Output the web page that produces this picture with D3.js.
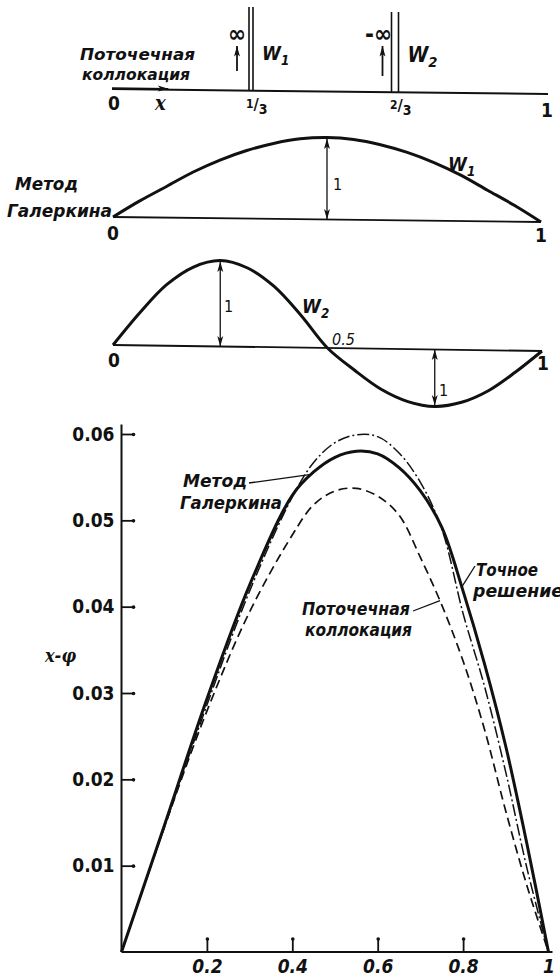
<!DOCTYPE html>
<html>
<head>
<meta charset="utf-8">
<script src="https://cdn.jsdelivr.net/npm/d3@7"></script>
<style>
  body { margin: 0; background: #fff; }
  text { font-family: "DejaVu Sans Condensed", "Liberation Sans Narrow", "DejaVu Sans", sans-serif; font-stretch: condensed; fill: #111; }
  .lbl { font-style: italic; font-weight: bold; font-size: 18px; }
  .num { font-weight: bold; font-size: 19px; }
  .thin { font-size: 16px; }
</style>
</head>
<body>
<svg id="chart" width="560" height="980"></svg>
<script>
// ---- main chart: x - phi ----
var xs          = [0, 0.1, 0.2, 0.3, 0.4, 0.45, 0.5, 0.55, 0.6, 0.65, 0.7, 0.75, 0.8, 0.85, 0.9, 0.95, 1];
var galerkin    = [0, 0.0146, 0.0293, 0.0425, 0.0529, 0.0556, 0.0573, 0.0580, 0.0577, 0.0561, 0.0534, 0.0492, 0.0418, 0.0334, 0.0238, 0.0124, 0];
var exact       = [0, 0.0144, 0.0286, 0.0418, 0.0527, 0.0567, 0.0590, 0.0599, 0.0597, 0.0578, 0.0544, 0.0490, 0.0392, 0.0308, 0.0208, 0.0096, 0];
var collocation = [0, 0.0144, 0.0279, 0.0394, 0.0483, 0.0518, 0.0534, 0.0537, 0.0528, 0.0506, 0.0457, 0.0402, 0.0337, 0.0258, 0.0163, 0.0076, 0];
var yTicks = [0.01, 0.02, 0.03, 0.04, 0.05, 0.06];
var xTicks = [0.2, 0.4, 0.6, 0.8, 1];

// ---- sketches above ----
var wx = [0, 0.0625, 0.125, 0.1875, 0.25, 0.3125, 0.375, 0.4375, 0.5, 0.5625, 0.625, 0.6875, 0.75, 0.8125, 0.875, 0.9375, 1];
var w1 = [0, 0.2, 0.38, 0.56, 0.71, 0.83, 0.92, 0.98, 1, 0.98, 0.92, 0.83, 0.71, 0.56, 0.38, 0.2, 0];
var w2 = [0, 0.38, 0.71, 0.92, 1, 0.92, 0.71, 0.38, 0, -0.38, -0.71, -0.92, -1, -0.92, -0.71, -0.38, 0];
var deltaAt = [1/3, 2/3];
var deltaSign = ["∞", "-∞"];
var deltaSub = ["1", "2"];
var fracNum = ["1", "2"];

var svg = d3.select("#chart");
var ink = "#111";

svg.append("defs").append("marker")
  .attr("id", "head")
  .attr("viewBox", "0 0 12 8")
  .attr("refX", 12).attr("refY", 4)
  .attr("markerWidth", 11).attr("markerHeight", 7)
  .attr("markerUnits", "userSpaceOnUse")
  .attr("orient", "auto-start-reverse")
  .append("path")
  .attr("d", "M0,0.6L12,4L0,7.4L3,4Z")
  .attr("fill", ink);

function label(g, x, y, str, cls, len) {
  var t = g.append("text").attr("x", x).attr("y", y).attr("class", cls).text(str);
  if (len) t.attr("textLength", len).attr("lengthAdjust", "spacingAndGlyphs");
  return t;
}

function wLabel(g, x, y, sub, size) {
  var t = g.append("text").attr("x", x).attr("y", y).attr("class", "lbl")
    .style("font-size", size + "px");
  t.append("tspan").text("W");
  t.append("tspan").attr("dy", 5).style("font-size", (size * 0.7) + "px").text(sub);
}

// ---------- panel 1: point collocation ----------
var xTop = d3.scaleLinear().domain([0, 1/3, 2/3, 1]).range([112, 251, 395, 548]);
var yTop = d3.scaleLinear().domain([0, 1]).range([89, 94]);
var p1 = svg.append("g");

p1.append("line")
  .attr("x1", xTop(0)).attr("y1", yTop(0))
  .attr("x2", xTop(1)).attr("y2", yTop(1))
  .attr("stroke", ink).attr("stroke-width", 2);

p1.append("line")
  .attr("x1", xTop(0)).attr("y1", yTop(0) - 1)
  .attr("x2", xTop(0.135)).attr("y2", yTop(0.135) - 1)
  .attr("stroke", ink).attr("stroke-width", 1.5)
  .attr("marker-end", "url(#head)");

deltaAt.forEach(function(d, i) {
  var cx = xTop(d), yb = yTop(d);
  var gap = i ? 7 : 4;
  [cx - gap / 2, cx + gap / 2].forEach(function(lx) {
    p1.append("line")
      .attr("x1", lx).attr("x2", lx)
      .attr("y1", 7 + 5 * i).attr("y2", yb)
      .attr("stroke", ink).attr("stroke-width", 1.6);
  });
  var ax = cx - 14 + 1.5 * i;
  p1.append("line")
    .attr("x1", ax).attr("x2", ax)
    .attr("y1", 71 + 5 * i).attr("y2", 46)
    .attr("stroke", ink).attr("stroke-width", 1.8)
    .attr("marker-end", "url(#head)");
  p1.append("text").attr("x", ax - (i ? 4 : 0)).attr("y", 42)
    .attr("text-anchor", "middle").attr("class", "num")
    .style("font-size", "24px").text(deltaSign[i]);
  wLabel(p1, cx + gap / 2 + 9, 60 + 2 * i, deltaSub[i], 19 + 2 * i);

  var f = p1.append("text").attr("x", cx - 5).attr("y", yb + 21)
    .attr("class", "thin").style("font-weight", "bold");
  f.append("tspan").attr("dy", -4).style("font-size", "12px").text(fracNum[i]);
  f.append("tspan").attr("dy", 2).text("/");
  f.append("tspan").attr("dy", 4).style("font-size", "14px").text("3");
});

label(p1, 80, 60, "Поточечная", "lbl", 115).style("font-size", "16.5px");
label(p1, 82, 80, "коллокация", "lbl", 108).style("font-size", "16.5px");
label(p1, 108, 110, "0", "num");
label(p1, 155, 110, "x", "lbl").style("font-family", "'DejaVu Serif', serif").style("font-size", "20px");
label(p1, 541, 117, "1", "num");

// ---------- panel 2: Galerkin W1 ----------
var xW1 = d3.scaleLinear().domain([0, 1]).range([113, 541]);
var baseW1 = d3.scaleLinear().domain([0, 1]).range([217, 222]);
var ampW1 = d3.scaleLinear().domain([0, 1]).range([0, 82]);
var p2 = svg.append("g");

p2.append("line")
  .attr("x1", xW1(0)).attr("y1", baseW1(0))
  .attr("x2", xW1(1)).attr("y2", baseW1(1))
  .attr("stroke", ink).attr("stroke-width", 1.8);

p2.append("path")
  .datum(wx.map(function(x, i) { return [x, w1[i]]; }))
  .attr("fill", "none").attr("stroke", ink).attr("stroke-width", 3)
  .attr("d", d3.line()
    .x(function(d) { return xW1(d[0]); })
    .y(function(d) { return baseW1(d[0]) - ampW1(d[1]); })
    .curve(d3.curveCatmullRom.alpha(0.5)));

p2.append("line")
  .attr("x1", xW1(0.5)).attr("x2", xW1(0.5))
  .attr("y1", baseW1(0.5) - ampW1(1) + 1).attr("y2", baseW1(0.5))
  .attr("stroke", ink).attr("stroke-width", 1.3)
  .attr("marker-start", "url(#head)").attr("marker-end", "url(#head)");

label(p2, 333, 190, "1", "thin");
wLabel(p2, 448, 171, "1", 19);
label(p2, 15, 190, "Метод", "lbl", 63);
label(p2, 7, 217, "Галеркина", "lbl", 105);
label(p2, 107, 240, "0", "num");
label(p2, 535, 242, "1", "num");

// ---------- panel 3: Galerkin W2 ----------
var xW2 = d3.scaleLinear().domain([0, 1]).range([113, 542]);
var baseW2 = d3.scaleLinear().domain([0, 1]).range([345, 351]);
var ampW2 = d3.scaleLinear().domain([-1, 0, 1]).range([-57, 0, 86]);
var p3 = svg.append("g");

p3.append("line")
  .attr("x1", xW2(0)).attr("y1", baseW2(0))
  .attr("x2", xW2(1)).attr("y2", baseW2(1))
  .attr("stroke", ink).attr("stroke-width", 1.8);

p3.append("path")
  .datum(wx.map(function(x, i) { return [x, w2[i]]; }))
  .attr("fill", "none").attr("stroke", ink).attr("stroke-width", 3)
  .attr("d", d3.line()
    .x(function(d) { return xW2(d[0]); })
    .y(function(d) { return baseW2(d[0]) - ampW2(d[1]); })
    .curve(d3.curveCatmullRom.alpha(0.5)));

[0.25, 0.75].forEach(function(x) {
  var v = x < 0.5 ? 1 : -1;
  p3.append("line")
    .attr("x1", xW2(x)).attr("x2", xW2(x))
    .attr("y1", baseW2(x)).attr("y2", baseW2(x) - ampW2(v) + (v > 0 ? 1 : -1))
    .attr("stroke", ink).attr("stroke-width", 1.3)
    .attr("marker-start", "url(#head)").attr("marker-end", "url(#head)");
});

label(p3, 224, 312, "1", "thin");
label(p3, 439, 396, "1", "thin");
wLabel(p3, 302, 313, "2", 19);
label(p3, 332, 345, "0.5", "thin").style("font-style", "italic");
label(p3, 108, 367, "0", "num");
label(p3, 537, 370, "1", "num");

// ---------- main chart ----------
var x = d3.scaleLinear().domain([0, 1]).range([121.5, 548.5]);
var y = d3.scaleLinear().domain([0, 0.06]).range([952, 434]);
var main = svg.append("g");

// axes
main.append("line")
  .attr("x1", x(0)).attr("x2", x(0))
  .attr("y1", y(0)).attr("y2", y(0.0611))
  .attr("stroke", ink).attr("stroke-width", 2);
main.append("line")
  .attr("x1", x(0)).attr("x2", x(1) + 4)
  .attr("y1", y(0)).attr("y2", y(0))
  .attr("stroke", ink).attr("stroke-width", 2.2);

var yAxis = d3.axisLeft(y).tickValues(yTicks).tickSizeInner(-12).tickSizeOuter(0)
  .tickPadding(7).tickFormat(d3.format(".2f"));
var gy = main.append("g").attr("transform", "translate(" + x(0) + ",0)").call(yAxis);
gy.select(".domain").remove();
gy.selectAll("line").attr("stroke", ink).attr("stroke-width", 1.8);
gy.selectAll("text").attr("class", "num").attr("fill", ink).style("font-family", null);
gy.selectAll(".tick").append("circle").attr("cx", 12).attr("r", 1.8).attr("fill", ink);

var xAxis = d3.axisBottom(x).tickValues(xTicks).tickSizeInner(-13).tickSizeOuter(0)
  .tickPadding(8).tickFormat(function(d) { return d === 1 ? "1" : d3.format(".1f")(d); });
var gx = main.append("g").attr("transform", "translate(0," + y(0) + ")").call(xAxis);
gx.select(".domain").remove();
gx.selectAll("line").attr("stroke", ink).attr("stroke-width", 1.8);
gx.selectAll(".tick").filter(function(d) { return d === 1; }).select("line").remove();
gx.selectAll(".tick").filter(function(d) { return d !== 1; })
  .append("circle").attr("cy", -13).attr("r", 1.8).attr("fill", ink);
gx.selectAll("text").attr("class", "num").attr("fill", ink).style("font-style", "italic");

// curves
var line = d3.line()
  .x(function(d) { return x(d[0]); })
  .y(function(d) { return y(d[1]); })
  .curve(d3.curveCatmullRom.alpha(0.5));

function series(vals) { return xs.map(function(v, i) { return [v, vals[i]]; }); }

main.append("path").datum(series(exact))
  .attr("fill", "none").attr("stroke", ink).attr("stroke-width", 1.5)
  .attr("stroke-dasharray", "12,3,2,3").attr("d", line);
main.append("path").datum(series(collocation))
  .attr("fill", "none").attr("stroke", ink).attr("stroke-width", 1.7)
  .attr("stroke-dasharray", "9,5").attr("d", line);
main.append("path").datum(series(galerkin))
  .attr("fill", "none").attr("stroke", ink).attr("stroke-width", 3).attr("d", line);

// annotations
label(main, 183, 487, "Метод", "lbl", 64);
label(main, 180, 509, "Галеркина", "lbl", 102);
main.append("line").attr("x1", 249).attr("y1", 483).attr("x2", x(0.44)).attr("y2", y(0.0553))
  .attr("stroke", ink).attr("stroke-width", 1.3);

label(main, 476, 576, "Точное", "lbl", 62);
label(main, 473, 597, "решение", "lbl", 90);
main.append("line").attr("x1", 475).attr("y1", 566).attr("x2", x(0.797)).attr("y2", y(0.0423))
  .attr("stroke", ink).attr("stroke-width", 1.3);

label(main, 302, 615, "Поточечная", "lbl", 108);
label(main, 305, 636, "коллокация", "lbl", 107);
main.append("line").attr("x1", 413).attr("y1", 611).attr("x2", x(0.746)).attr("y2", y(0.0407))
  .attr("stroke", ink).attr("stroke-width", 1.3);

var yl = label(main, 45, 662, "", "lbl");
yl.append("tspan").style("font-family", "'DejaVu Serif', serif").text("x");
yl.append("tspan").text("-");
yl.append("tspan").style("font-family", "'DejaVu Serif', serif").text("φ");
</script>
</body>
</html>
